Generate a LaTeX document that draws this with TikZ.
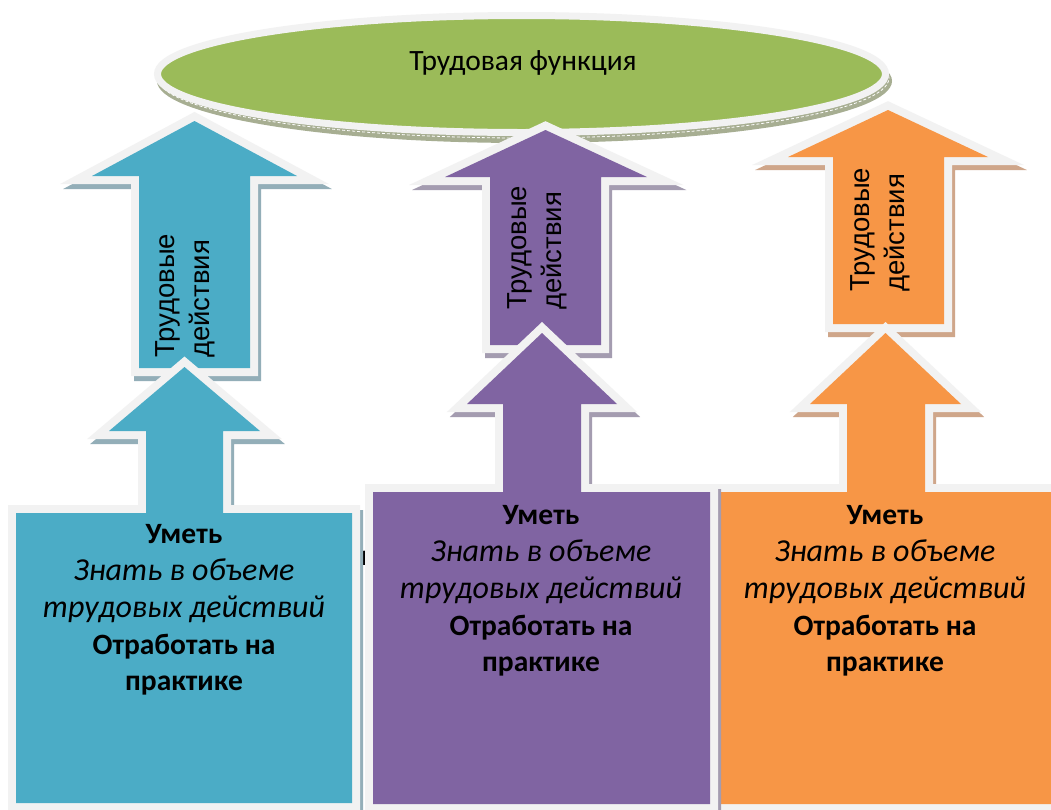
\documentclass[tikz,border=0pt]{standalone}
\usepackage{fontspec}
\usetikzlibrary{shapes.geometric}
\newfontfamily\calfont{Carlito}
\newfontfamily\arialfont{Liberation Sans}
\definecolor{bord}{HTML}{F2F2F2}
\definecolor{cblue}{HTML}{4BACC6}
\definecolor{sblue}{HTML}{93AEB8}
\definecolor{cpurp}{HTML}{8064A2}
\definecolor{spurp}{HTML}{A49CB0}
\definecolor{corng}{HTML}{F79646}
\definecolor{sorng}{HTML}{CFA68A}
\definecolor{cgrn}{HTML}{9BBB59}
\definecolor{sgrn}{HTML}{A7AE92}
\newcommand\bfs{\calfont\bfseries\fontsize{29.5}{34}\selectfont}
\newcommand\its{\calfont\itshape\fontsize{32}{36}\selectfont}
\newcommand\vts{\arialfont\fontsize{27.5}{35}\selectfont}
\newcommand\blockshape[3]{%
  \path[shift={(3,5)}, #1, fill=#3, draw=#3, line width=16pt, line join=miter];
  \path[#1, fill=#2, draw=bord, line width=16pt, line join=miter];
  \path[#1, fill=#2];
}
\newcommand\boxtext[3]{%
  \node[btxt, font=\bfs] (#1a) at (#2,#3) {Уметь};
  \node[btxt, font=\its] (#1b) at (#2,#3+37) {Знать в объеме};
  \node[btxt, font=\its] (#1c) at (#2,#3+74) {трудовых действий};
  \node[btxt, font=\bfs] (#1d) at (#2,#3+111) {Отработать на};
  \node[btxt, font=\bfs] (#1e) at (#2,#3+147) {практике};
}
\tikzset{
  btxt/.style={anchor=base, inner sep=0pt, text=black},
  vtxt/.style={rotate=90, anchor=north west, inner sep=0pt, align=left, font=\vts, text=black},
  ell/.style={ellipse, inner sep=0pt, outer sep=0pt},
  pBT/.style={insert path={(139,368) -- (139,176) -- (92,176) -- (194.5,121) -- (297,176) -- (250,176) -- (250,368) -- cycle}},
  pPT/.style={insert path={(490,345) -- (490,177) -- (445,177) -- (545.5,130) -- (647,177) -- (601,177) -- (601,345) -- cycle}},
  pOT/.style={insert path={(833,324) -- (833,157) -- (788,157) -- (888,110) -- (988,157) -- (944,157) -- (944,324) -- cycle}},
  pBB/.style={insert path={(16,803) -- (16,513) -- (146,513) -- (146,431) -- (109,431) -- (184.5,367) -- (260,431) -- (223,431) -- (223,513) -- (352,513) -- (352,803) -- cycle}},
  pPB/.style={insert path={(373,804) -- (373,492) -- (503,492) -- (503,404) -- (467,404) -- (542,333) -- (617,404) -- (581,404) -- (581,492) -- (710,492) -- (710,804) -- cycle}},
  pOB/.style={insert path={(720,804) -- (720,492) -- (847,492) -- (847,404) -- (810,404) -- (885.5,333) -- (961,404) -- (925,404) -- (925,492) -- (1070,492) -- (1070,804) -- cycle}},
}
\begin{document}
\begin{tikzpicture}[x=1pt,y=-1pt]
\useasboundingbox (0,0) rectangle (1051,809);
\clip (0,0) rectangle (1051,809);
\fill[white] (0,0) rectangle (1051,809);
% top ellipse
\node[ell, fill=sgrn, minimum width=735pt, minimum height=124pt] (esh) at (524.5,81) {};
\node[ell, draw=white, line width=0.8pt, dash pattern=on 3pt off 2pt, minimum width=731pt, minimum height=120pt] (edash) at (523.5,78) {};
\node[ell, fill=cgrn, draw=bord, line width=7pt, minimum width=728pt, minimum height=117pt] (ef) at (521.5,74) {};
\node[anchor=base, inner sep=0pt, font=\calfont\fontsize{29.5}{34}\selectfont] (tf) at (523,70) {Трудовая функция};
% upper arrows
\blockshape{pBT}{cblue}{sblue}
\blockshape{pPT}{cpurp}{spurp}
\blockshape{pOT}{corng}{sorng}
\node[vtxt] (vb) at (155,358) {Трудовые\\действия};
\node[vtxt] (vp) at (507,310) {Трудовые\\действия};
\node[vtxt] (vo) at (850,292) {Трудовые\\действия};
% hidden fragment
\node[anchor=base east, inner sep=0pt, font=\bfs] (frag) at (368,565) {и};
% lower callouts
\blockshape{pBB}{cblue}{sblue}
\blockshape{pOB}{corng}{sorng}
\blockshape{pPB}{cpurp}{spurp}
\boxtext{bl}{184}{543}
\boxtext{pu}{541}{524}
\boxtext{or}{885}{524}
\end{tikzpicture}
\end{document}
